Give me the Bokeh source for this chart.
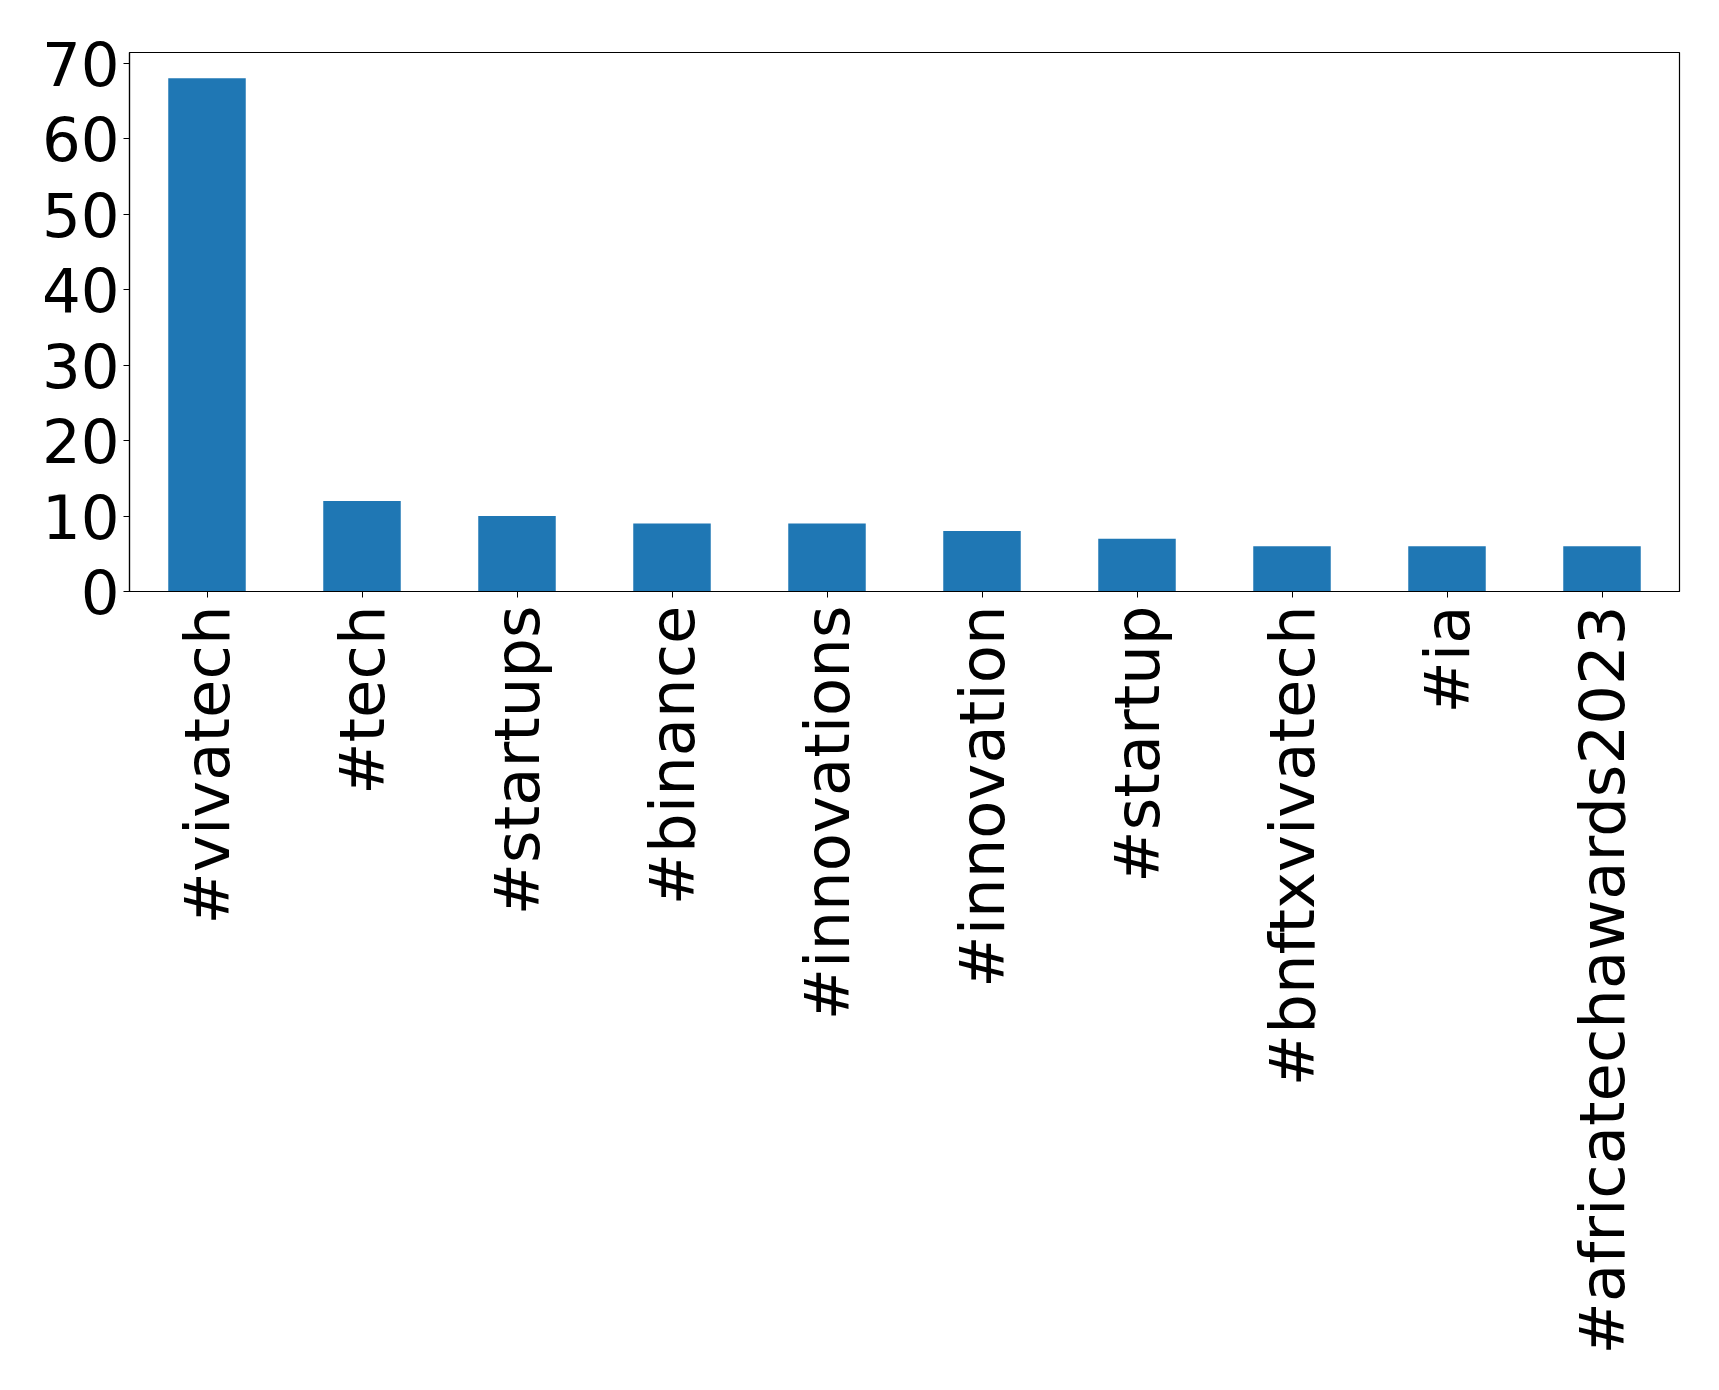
import math
from bokeh.plotting import figure
from bokeh.models import ColumnDataSource, Range1d, FixedTicker
from bokeh.embed import file_html
from bokeh.resources import INLINE

hashtags = ["#vivatech", "#tech", "#startups", "#binance", "#innovations",
            "#innovation", "#startup", "#bnftxvivatech", "#ia", "#africatechawards2023"]
counts = [68, 12, 10, 9, 9, 8, 7, 6, 6, 6]
y_ticks = [0, 10, 20, 30, 40, 50, 60, 70]

src = ColumnDataSource(dict(tag=hashtags, count=counts))

p = figure(x_range=hashtags, y_range=Range1d(0, 71.4),
           width=1703, height=1374, output_backend="svg", toolbar_location=None,
           min_border_left=129, min_border_top=52, min_border_right=24, min_border_bottom=783)
p.x_range.range_padding = 0
p.vbar(x="tag", top="count", width=0.5, source=src, color="#1f77b4", line_color=None)

p.xgrid.visible = False
p.ygrid.visible = False
p.outline_line_color = "black"
p.outline_line_width = 1.2
p.outline_line_alpha = 1

for ax in (p.xaxis, p.yaxis):
    ax.axis_line_color = "black"
    ax.axis_line_width = 1.2
    ax.major_tick_line_color = "black"
    ax.major_tick_in = 0
    ax.major_tick_out = 6
    ax.minor_tick_line_color = None
    ax.major_label_text_font = "DejaVu Sans"
    ax.major_label_text_color = "black"

p.xaxis.major_label_text_font_size = "62.5px"
p.yaxis.major_label_text_font_size = "61px"
p.yaxis.ticker = FixedTicker(ticks=y_ticks)
p.yaxis.major_label_standoff = 4
p.xaxis.major_label_orientation = math.pi / 2
p.xaxis.major_label_standoff = 8

open("out.html", "w").write(file_html(p, INLINE))
